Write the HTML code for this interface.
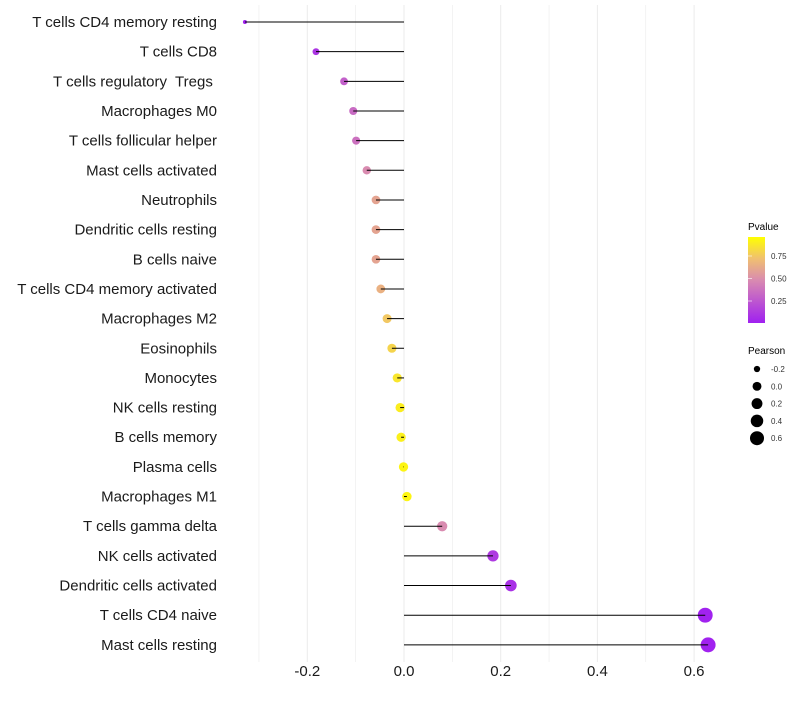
<!DOCTYPE html>
<html><head><meta charset="utf-8"><style>
body{margin:0;background:#fff;}
svg text{font-family:"Liberation Sans",sans-serif;white-space:pre;}
</style></head><body>
<svg id="chart" width="800" height="700">
<defs><linearGradient id="pg" x1="0" y1="1" x2="0" y2="0">
<stop offset="0" stop-color="#A020F0"/><stop offset="0.5" stop-color="#D98BB0"/><stop offset="0.75" stop-color="#F0C070"/><stop offset="1" stop-color="#FFFF00"/></linearGradient></defs>
<g id="grid"></g><g id="marks"></g><g id="labels"></g><g id="xticks"></g>
<g id="legend">
<text x="748" y="230" font-size="10">Pvalue</text>
<rect x="748" y="237" width="17" height="86" fill="url(#pg)"/>
<g id="cbticks"></g>
<text x="748" y="354" font-size="10">Pearson</text>
<g id="sizeleg"></g>
</g>
</svg>
<script>
const categories=["T cells CD4 memory resting","T cells CD8","T cells regulatory  Tregs ","Macrophages M0","T cells follicular helper","Mast cells activated","Neutrophils","Dendritic cells resting","B cells naive","T cells CD4 memory activated","Macrophages M2","Eosinophils","Monocytes","NK cells resting","B cells memory","Plasma cells","Macrophages M1","T cells gamma delta","NK cells activated","Dendritic cells activated","T cells CD4 naive","Mast cells resting"];
const pearson=[-0.329,-0.182,-0.124,-0.105,-0.099,-0.077,-0.058,-0.058,-0.058,-0.048,-0.035,-0.025,-0.014,-0.008,-0.006,-0.001,0.006,0.079,0.184,0.221,0.623,0.629];
const pvalues=[0.01,0.1,0.3,0.35,0.38,0.5,0.62,0.62,0.62,0.68,0.78,0.83,0.9,0.93,0.94,0.96,0.96,0.5,0.12,0.08,0.01,0.01];
const xTicks=[-0.2,0,0.2,0.4,0.6];
const xTickLabels=["-0.2","0.0","0.2","0.4","0.6"];
const cbTicks=[0.25,0.5,0.75];
const sizeLegend=[-0.2,0,0.2,0.4,0.6];
const NS="http://www.w3.org/2000/svg";
const x=v=>404+v*483.5;
const y=i=>22+i*29.66;
const r=v=>Math.sqrt(Math.max(2,21.9+54.2*v));
const cbY=p=>323.5-p*90;
function col(p){const st=[[0,[160,32,240]],[0.5,[217,139,176]],[0.75,[240,192,112]],[1,[255,255,0]]];let k=0;while(k<st.length-2&&p>st[k+1][0])k++;const [p0,a]=st[k],[p1,b]=st[k+1];const t=Math.min(1,Math.max(0,(p-p0)/(p1-p0)));return `rgb(${a.map((c,j)=>Math.round(c+(b[j]-c)*t)).join(',')})`;}
function mk(tag,at,parent){const e=document.createElementNS(NS,tag);for(const k in at)e.setAttribute(k,at[k]);document.getElementById(parent).appendChild(e);return e;}
for(let v=-0.3;v<=0.651;v+=0.1){const l=mk('line',{x1:x(v),x2:x(v),y1:5,y2:662,stroke:'#ebebeb','stroke-width':Math.abs(Math.round(v*10))%2===0?1:0.6},'grid');

}
categories.forEach((c,i)=>{
const p=mk('circle',{cx:x(pearson[i]),cy:y(i),r:r(pearson[i]),fill:col(pvalues[i])},'marks');


const s=mk('line',{x1:x(0),x2:x(pearson[i]),y1:y(i),y2:y(i),stroke:'#000','stroke-width':1},'marks');


const t=mk('text',{x:217,y:y(i)+5,'text-anchor':'end','font-size':15,fill:'#1a1a1a'},'labels');t.textContent=c;


});
xTicks.forEach((v,i)=>{const t=mk('text',{x:x(v),y:676,'text-anchor':'middle','font-size':15,fill:'#1a1a1a'},'xticks');t.textContent=xTickLabels[i];

});
cbTicks.forEach(v=>{const t=mk('text',{x:771,y:cbY(v)+3,'font-size':8,fill:'#333'},'cbticks');t.textContent=v.toFixed(2);


const l=mk('line',{x1:748,x2:752,y1:cbY(v),y2:cbY(v),stroke:'#fff','stroke-width':0.6},'cbticks');

});
sizeLegend.forEach((v,i)=>{const cy=369+i*17.3;const c=mk('circle',{cx:757,cy:cy,r:r(v)*0.95,fill:'#000'},'sizeleg');


const t=mk('text',{x:771,y:cy+3,'font-size':8,fill:'#333'},'sizeleg');t.textContent=v.toFixed(1);

});
</script>
</body></html>
